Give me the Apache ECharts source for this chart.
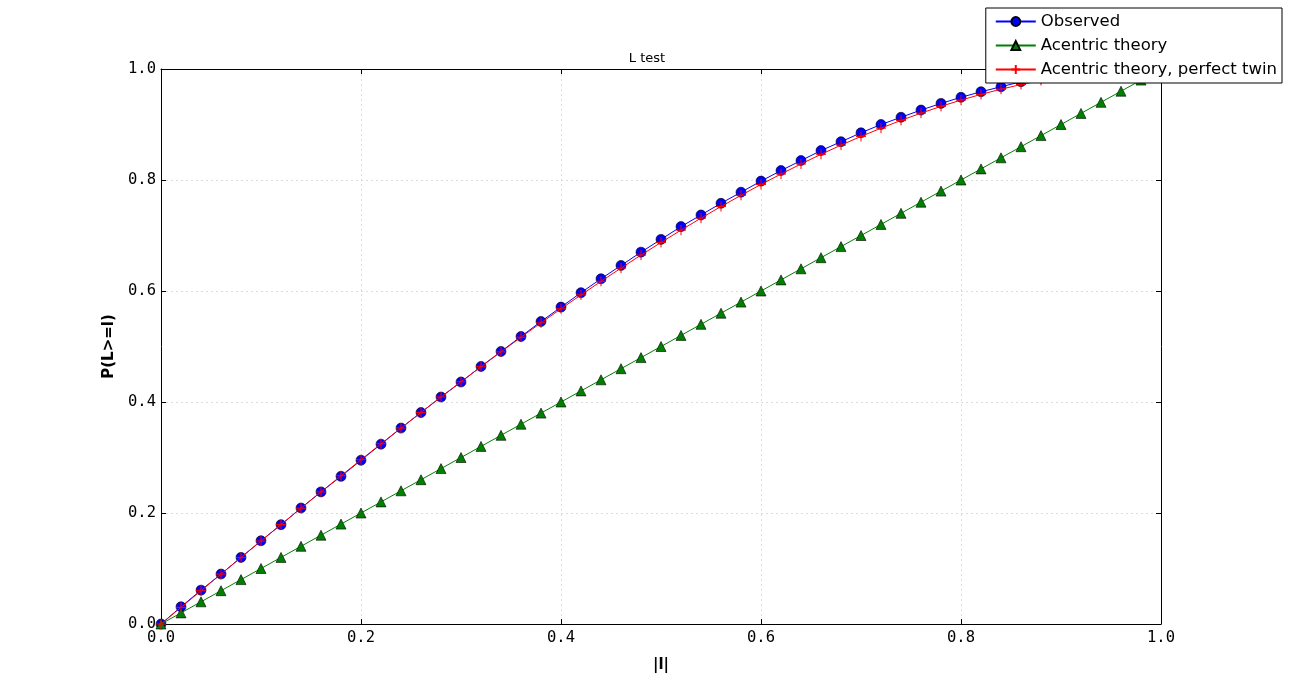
<!DOCTYPE html>
<html>
<head>
<meta charset="utf-8">
<script src="https://cdn.jsdelivr.net/npm/echarts@6/dist/echarts.min.js"></script>
<style>html,body{margin:0;padding:0;background:#fff}#c{width:1290px;height:694px}</style>
</head>
<body>
<div id="c"></div>
<script>
var xValues = [0, 0.02, 0.04, 0.06, 0.08, 0.10, 0.12, 0.14, 0.16, 0.18, 0.20, 0.22, 0.24, 0.26, 0.28, 0.30, 0.32, 0.34, 0.36, 0.38, 0.40, 0.42, 0.44, 0.46, 0.48, 0.50, 0.52, 0.54, 0.56, 0.58, 0.60, 0.62, 0.64, 0.66, 0.68, 0.70, 0.72, 0.74, 0.76, 0.78, 0.80, 0.82, 0.84, 0.86, 0.88, 0.90, 0.92, 0.94, 0.96, 0.98, 1.00];
var observed = [0, 0.031, 0.061, 0.090, 0.120, 0.150, 0.179, 0.209, 0.238, 0.266, 0.295, 0.324, 0.353, 0.381, 0.409, 0.436, 0.464, 0.491, 0.518, 0.545, 0.571, 0.597, 0.622, 0.646, 0.670, 0.693, 0.716, 0.737, 0.758, 0.778, 0.798, 0.817, 0.835, 0.853, 0.869, 0.885, 0.900, 0.913, 0.926, 0.938, 0.949, 0.959, 0.968, 0.977, 0.984, 0.990, 0.994, 0.997, 0.999, 1.0, 1.0];
var acentric = [0, 0.02, 0.04, 0.06, 0.08, 0.10, 0.12, 0.14, 0.16, 0.18, 0.20, 0.22, 0.24, 0.26, 0.28, 0.30, 0.32, 0.34, 0.36, 0.38, 0.40, 0.42, 0.44, 0.46, 0.48, 0.50, 0.52, 0.54, 0.56, 0.58, 0.60, 0.62, 0.64, 0.66, 0.68, 0.70, 0.72, 0.74, 0.76, 0.78, 0.80, 0.82, 0.84, 0.86, 0.88, 0.90, 0.92, 0.94, 0.96, 0.98, 1.00];
var perfectTwin = [0, 0.0300, 0.0600, 0.0899, 0.1197, 0.1495, 0.1791, 0.2086, 0.2380, 0.2671, 0.2960, 0.3247, 0.3531, 0.3812, 0.4090, 0.4365, 0.4636, 0.4903, 0.5167, 0.5426, 0.5680, 0.5930, 0.6174, 0.6413, 0.6647, 0.6875, 0.7097, 0.7313, 0.7522, 0.7724, 0.7920, 0.8108, 0.8289, 0.8463, 0.8628, 0.8785, 0.8934, 0.9074, 0.9205, 0.9327, 0.9440, 0.9543, 0.9636, 0.9720, 0.9793, 0.9855, 0.9907, 0.9947, 0.9976, 0.9994, 1.0];
var seriesNames = ['Observed', 'Acentric theory', 'Acentric theory, perfect twin'];
var tickValues = [0, 0.2, 0.4, 0.6, 0.8, 1.0];
var chartTitle = 'L test';
var xTitle = '|l|';
var yTitle = 'P(L>=l)';

function pairs(ys) { return xValues.map(function (x, i) { return [x, ys[i]]; }); }

var mono = 'DejaVu Sans Mono';
var sans = 'DejaVu Sans';
var plusPath = 'path://M0,5 L10,5 M5,0 L5,10';

function axisBase(pos, isX, showLabel) {
  return {
    type: 'value', position: pos, min: 0, max: 1, interval: 0.2,
    axisLine: { show: true, onZero: false, lineStyle: { color: '#000', width: 1 } },
    axisTick: { show: true, inside: true, length: 5, lineStyle: { color: '#000' } },
    axisLabel: {
      show: showLabel, fontFamily: mono, fontSize: 15.5, color: '#000',
      margin: isX ? 6 : 5,
      formatter: function (v) { return v.toFixed(1); }
    },
    splitLine: { show: showLabel, lineStyle: { color: '#dcdcdc', type: [2, 3], width: 1 } }
  };
}

var xMain = axisBase('bottom', true, true);
xMain.name = xTitle; xMain.nameLocation = 'middle'; xMain.nameGap = 34;
xMain.nameTextStyle = { fontFamily: sans, fontWeight: 'bold', fontSize: 15, color: '#000' };
var yMain = axisBase('left', false, true);
yMain.name = yTitle; yMain.nameLocation = 'middle'; yMain.nameGap = 33;
yMain.nameTextStyle = { fontFamily: sans, fontWeight: 'bold', fontSize: 15, color: '#000' };

var option = {
  animation: false,
  backgroundColor: '#fff',
  title: {
    text: chartTitle, left: 642, top: 47, textAlign: 'center',
    textStyle: { fontFamily: sans, fontSize: 13, fontWeight: 'normal', color: '#000' }
  },
  grid: { left: 161, right: 129, top: 69, bottom: 70, containLabel: false },
  xAxis: [xMain, axisBase('top', true, false)],
  yAxis: [yMain, axisBase('right', false, false)],
  legend: {
    orient: 'vertical', right: 8, top: 8, z: 20,
    backgroundColor: '#fff', borderColor: '#000', borderWidth: 1, borderRadius: 0,
    padding: [5, 5, 5, 9], itemGap: 7, itemWidth: 40, itemHeight: 11,
    textStyle: { fontFamily: sans, fontSize: 16.5, lineHeight: 14, color: '#000' },
    data: seriesNames
  },
  series: [
    {
      name: seriesNames[0], type: 'line', xAxisIndex: 0, yAxisIndex: 0,
      data: pairs(observed), symbol: 'circle', symbolSize: 10,
      lineStyle: { color: '#0000ff', width: 1 },
      itemStyle: { color: '#0000ff', borderColor: '#000', borderWidth: 0.6 },
      z: 2
    },
    {
      name: seriesNames[1], type: 'line', xAxisIndex: 0, yAxisIndex: 0,
      data: pairs(acentric), symbol: 'triangle', symbolSize: 10,
      lineStyle: { color: '#008000', width: 1 },
      itemStyle: { color: '#008000', borderColor: '#000', borderWidth: 0.6 },
      z: 3
    },
    {
      name: seriesNames[2], type: 'line', xAxisIndex: 0, yAxisIndex: 0,
      data: pairs(perfectTwin), symbol: plusPath, symbolSize: 10,
      lineStyle: { color: '#ff0000', width: 1 },
      itemStyle: { color: 'none', borderColor: '#ff0000', borderWidth: 1 },
      z: 4
    }
  ]
};

var chart = echarts.init(document.getElementById('c'), null, { renderer: 'canvas' });
chart.setOption(option);
</script>
</body>
</html>
